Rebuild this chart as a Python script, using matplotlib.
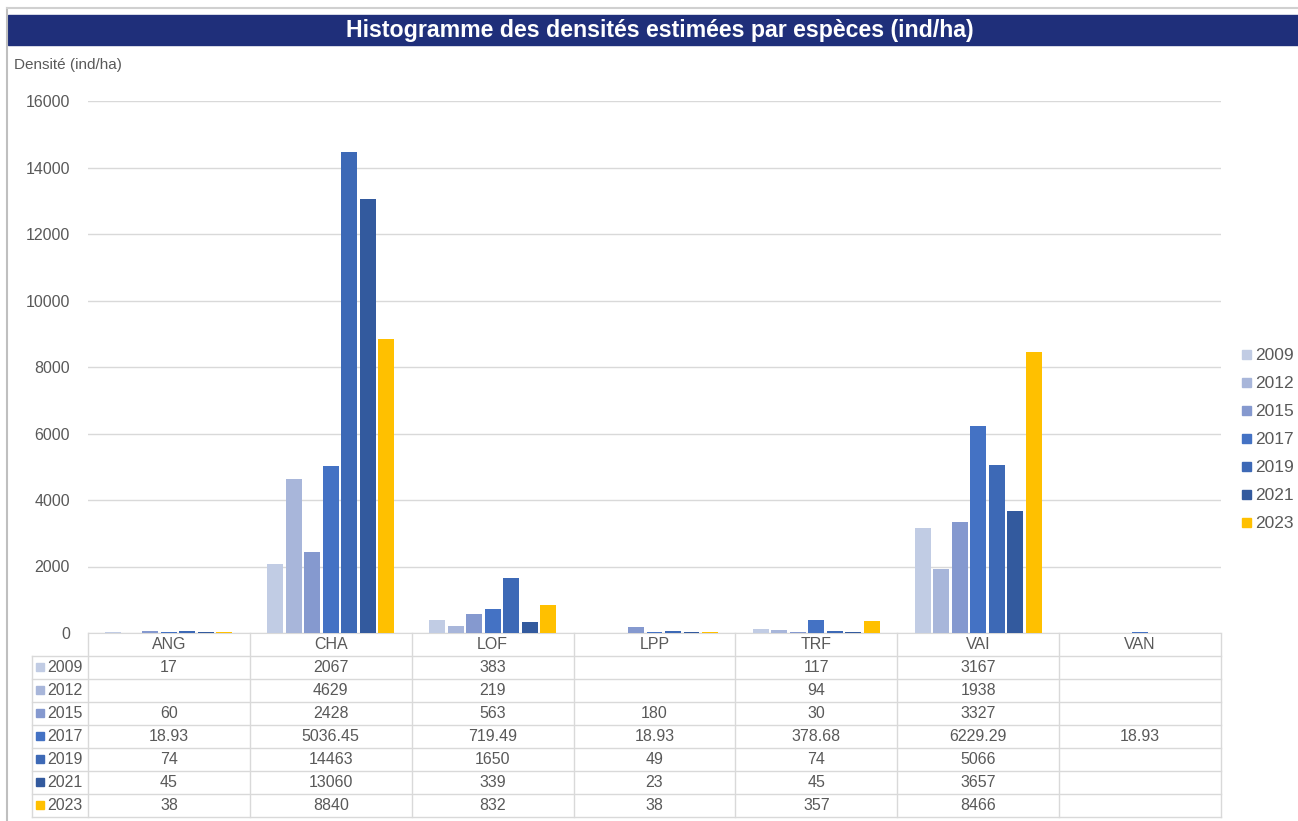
import numpy as np
import matplotlib.pyplot as plt
from matplotlib.patches import Rectangle

plt.rcParams['font.family'] = ['Liberation Sans', 'DejaVu Sans']

# données
especes = ['ANG', 'CHA', 'LOF', 'LPP', 'TRF', 'VAI', 'VAN']
annees = ['2009', '2012', '2015', '2017', '2019', '2021', '2023']
nan = np.nan
d2009 = [17, 2067, 383, nan, 117, 3167, nan]
d2012 = [nan, 4629, 219, nan, 94, 1938, nan]
d2015 = [60, 2428, 563, 180, 30, 3327, nan]
d2017 = [18.93, 5036.45, 719.49, 18.93, 378.68, 6229.29, 18.93]
d2019 = [74, 14463, 1650, 49, 74, 5066, nan]
d2021 = [45, 13060, 339, 23, 45, 3657, nan]
d2023 = [38, 8840, 832, 38, 357, 8466, nan]
series = [d2009, d2012, d2015, d2017, d2019, d2021, d2023]
couleurs = ['#C1CCE4', '#A8B6DA', '#8599CF', '#4472C4', '#3D69B6', '#335A9E', '#FFC000']

W, H = 1298, 821
fig = plt.figure(figsize=(W / 100, H / 100), dpi=100)

def fx(px):
    return px / W

def fy(py):
    return 1 - py / H

gris = '#595959'
ligne = '#D9D9D9'

# zone de tracé
x0, x1, ytop, ybot = 88, 1221, 101, 633
ax = fig.add_axes([fx(x0), fy(ybot), fx(x1) - fx(x0), fy(ytop) - fy(ybot)])
n = len(especes)
pas = 0.8 / len(series)
for i, (vals, c) in enumerate(zip(series, couleurs)):
    pos = np.arange(n) - 0.4 + pas * (i + 0.5)
    ax.bar(pos, np.nan_to_num(vals), width=pas * 0.86, color=c, zorder=3)
ax.set_xlim(-0.5, n - 0.5)
ax.set_ylim(0, 16000)
ax.set_yticks(range(0, 16001, 2000))
ax.yaxis.grid(True, color=ligne, linewidth=1)
ax.set_axisbelow(True)
ax.set_xticks([])
for s in ['top', 'right', 'left']:
    ax.spines[s].set_visible(False)
ax.spines['bottom'].set_color(ligne)
ax.tick_params(axis='y', length=0, labelsize=11.5, labelcolor=gris, pad=13)

# calque pour le titre, le tableau et la légende
ov = fig.add_axes([0, 0, 1, 1])
ov.set_xlim(0, W)
ov.set_ylim(H, 0)
ov.axis('off')

ov.plot([7, 7], [8, H], color='#BFBFBF', lw=1.5)
ov.plot([7, W], [8, 8], color='#D0D0D0', lw=1.5)
ov.add_patch(Rectangle((8, 15), W - 8, 30, color='#1F2F7A'))
ov.text(660, 30.5, 'Histogramme des densités estimées par espèces (ind/ha)',
        color='white', fontsize=16.7, fontweight='bold', ha='center', va='center')
ov.text(14, 65, 'Densité (ind/ha)', color=gris, fontsize=11, va='center')

# tableau de données
col_w = (x1 - x0) / n
r0, rh = 633, 23
nrows = len(series)
for k in range(n + 1):
    xx = x0 + k * col_w
    ov.plot([xx, xx], [r0, r0 + rh * (nrows + 1)], color=ligne, lw=1)
ov.plot([32, 32], [r0 + rh, r0 + rh * (nrows + 1)], color=ligne, lw=1)
for r in range(1, nrows + 2):
    yy = r0 + r * rh
    ov.plot([32, x1], [yy, yy], color=ligne, lw=1)
for k, e in enumerate(especes):
    ov.text(x0 + (k + 0.5) * col_w, r0 + rh / 2, e, color=gris,
            fontsize=11.5, ha='center', va='center')
for r, (a, vals, c) in enumerate(zip(annees, series, couleurs)):
    yc = r0 + (r + 1.5) * rh
    ov.add_patch(Rectangle((36, yc - 4), 8, 8, color=c))
    ov.text(47, yc, a, color=gris, fontsize=11.5, va='center')
    for k, v in enumerate(vals):
        if not np.isnan(v):
            ov.text(x0 + (k + 0.5) * col_w, yc, f'{v:g}', color=gris,
                    fontsize=11.5, ha='center', va='center')

# légende
for r, (a, c) in enumerate(zip(annees, couleurs)):
    yc = 355 + r * 28
    ov.add_patch(Rectangle((1242, yc - 4.5), 9, 9, color=c))
    ov.text(1255, yc, a, color=gris, fontsize=12.5, va='center')

fig.savefig('out.png', dpi=100)
